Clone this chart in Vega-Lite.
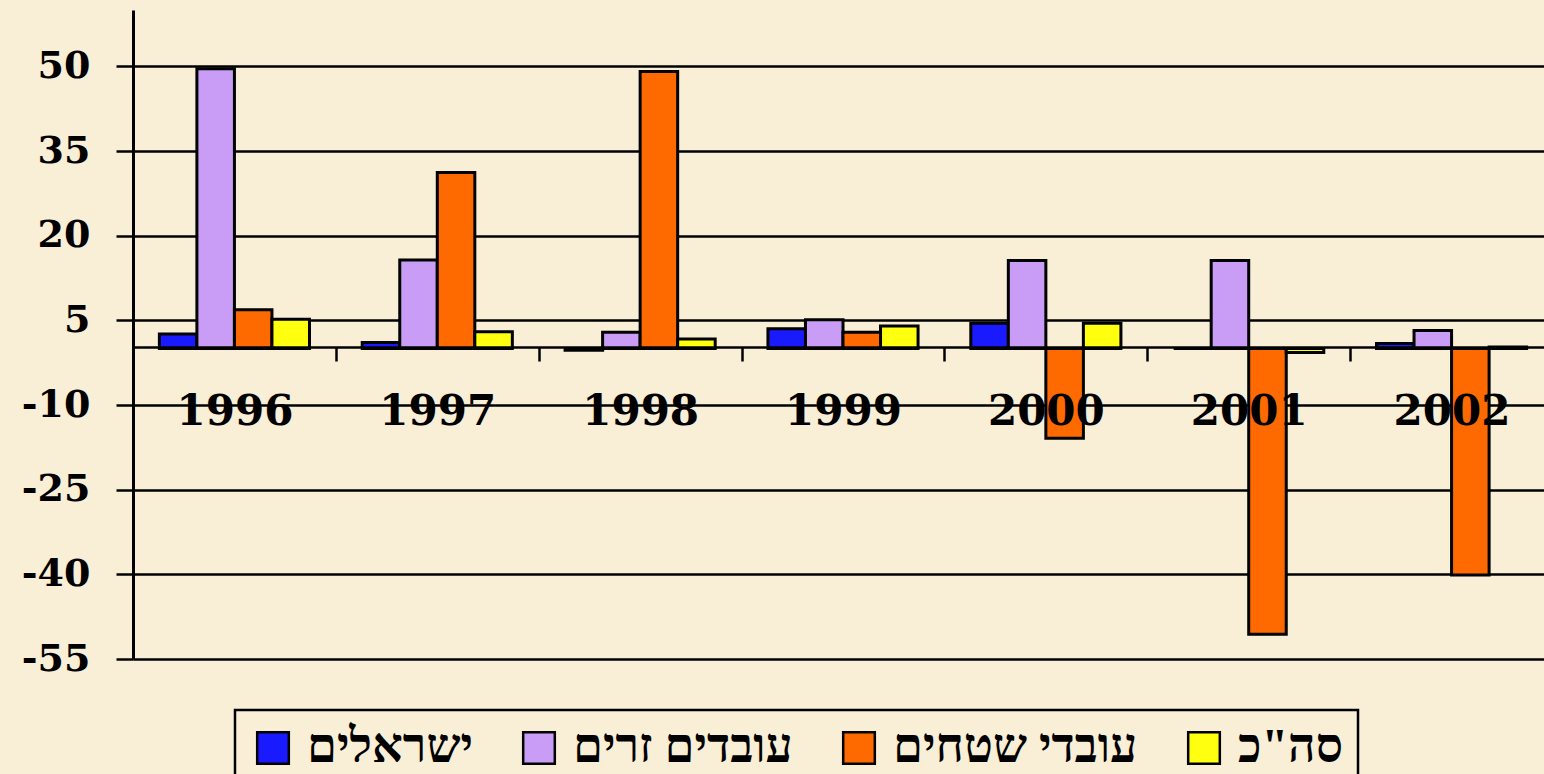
{
  "$schema": "https://vega.github.io/schema/vega-lite/v6.json",
  "autosize": {"type": "none"},
  "width": 1411,
  "height": 649,
  "padding": {"left": 133, "top": 10, "right": 0, "bottom": 115},
  "background": "#f9eed6",
  "config": {
    "view": {"stroke": null},
    "font": "Liberation Serif",
    "legend": {"strokeWidth": 2.5}
  },
  "data": {
    "values": [
      {"year": "1996", "series": "ישראלים", "value": 2.6},
      {"year": "1996", "series": "עובדים זרים", "value": 49.6},
      {"year": "1996", "series": "עובדי שטחים", "value": 6.9},
      {"year": "1996", "series": "סה\"כ", "value": 5.2},
      {"year": "1997", "series": "ישראלים", "value": 1.1},
      {"year": "1997", "series": "עובדים זרים", "value": 15.7},
      {"year": "1997", "series": "עובדי שטחים", "value": 31.2},
      {"year": "1997", "series": "סה\"כ", "value": 3.0},
      {"year": "1998", "series": "ישראלים", "value": -0.3},
      {"year": "1998", "series": "עובדים זרים", "value": 2.9},
      {"year": "1998", "series": "עובדי שטחים", "value": 49.1},
      {"year": "1998", "series": "סה\"כ", "value": 1.7},
      {"year": "1999", "series": "ישראלים", "value": 3.5},
      {"year": "1999", "series": "עובדים זרים", "value": 5.1},
      {"year": "1999", "series": "עובדי שטחים", "value": 2.9},
      {"year": "1999", "series": "סה\"כ", "value": 4.0},
      {"year": "2000", "series": "ישראלים", "value": 4.5},
      {"year": "2000", "series": "עובדים זרים", "value": 15.6},
      {"year": "2000", "series": "עובדי שטחים", "value": -15.9},
      {"year": "2000", "series": "סה\"כ", "value": 4.5},
      {"year": "2001", "series": "ישראלים", "value": 0},
      {"year": "2001", "series": "עובדים זרים", "value": 15.6},
      {"year": "2001", "series": "עובדי שטחים", "value": -50.6},
      {"year": "2001", "series": "סה\"כ", "value": -0.7},
      {"year": "2002", "series": "ישראלים", "value": 0.9},
      {"year": "2002", "series": "עובדים זרים", "value": 3.2},
      {"year": "2002", "series": "עובדי שטחים", "value": -40.1},
      {"year": "2002", "series": "סה\"כ", "value": 0.3}
    ]
  },
  "mark": {"type": "bar", "stroke": "black", "strokeWidth": 3, "strokeJoin": "miter"},
  "encoding": {
    "x": {
      "field": "year",
      "type": "nominal",
      "sort": null,
      "scale": {"range": [0, 1420], "paddingInner": 0.26, "paddingOuter": 0.13},
      "axis": {
        "title": null,
        "orient": "bottom",
        "offset": -312,
        "zindex": 2,
        "labelAngle": 0,
        "labelFont": "DejaVu Serif",
        "labelFontWeight": "bold",
        "labelFontSize": 42,
        "labelColor": "black",
        "labelPadding": 30,
        "labelBaseline": "top",
        "labelOffset": -101.4,
        "domainColor": "black",
        "domainWidth": 2.5,
        "tickColor": "black",
        "tickWidth": 2.5,
        "tickSize": 14,
        "tickOffset": 101.4,
        "grid": false
      }
    },
    "xOffset": {
      "field": "series",
      "type": "nominal",
      "sort": ["ישראלים", "עובדים זרים", "עובדי שטחים", "סה\"כ"],
      "scale": {"paddingInner": 0, "paddingOuter": 0}
    },
    "y": {
      "field": "value",
      "type": "quantitative",
      "scale": {"domain": [-55, 60], "nice": false, "zero": true},
      "axis": {
        "title": null,
        "values": [-55, -40, -25, -10, 5, 20, 35, 50],
        "labelExpr": "'' + datum.value",
        "labelFont": "DejaVu Serif",
        "labelFontWeight": "bold",
        "labelFontSize": 38,
        "labelColor": "black",
        "labelPadding": 26,
        "domainColor": "black",
        "domainWidth": 3,
        "tickColor": "black",
        "tickWidth": 2.5,
        "tickSize": 17,
        "grid": true,
        "gridColor": "black",
        "gridWidth": 2.5,
        "gridOpacity": 1
      }
    },
    "color": {
      "field": "series",
      "type": "nominal",
      "sort": ["ישראלים", "עובדים זרים", "עובדי שטחים", "סה\"כ"],
      "scale": {
        "domain": ["ישראלים", "עובדים זרים", "עובדי שטחים", "סה\"כ"],
        "range": ["#1a1aff", "#c99cf5", "#ff6a00", "#ffff10"]
      },
      "legend": {
        "title": null,
        "orient": "none",
        "legendX": 102,
        "legendY": 700,
        "direction": "horizontal",
        "columns": 4,
        "symbolType": "square",
        "symbolSize": 1000,
        "symbolStrokeColor": "black",
        "symbolStrokeWidth": 2.5,
        "symbolOpacity": 1,
        "labelFont": "Liberation Serif",
        "labelFontWeight": "bold",
        "labelFontSize": 48,
        "labelColor": "black",
        "labelOffset": 10,
        "labelLimit": 400,
        "columnPadding": 42,
        "padding": 14,
        "strokeColor": "black",
        "fillColor": "#f9eed6"
      }
    }
  }
}
